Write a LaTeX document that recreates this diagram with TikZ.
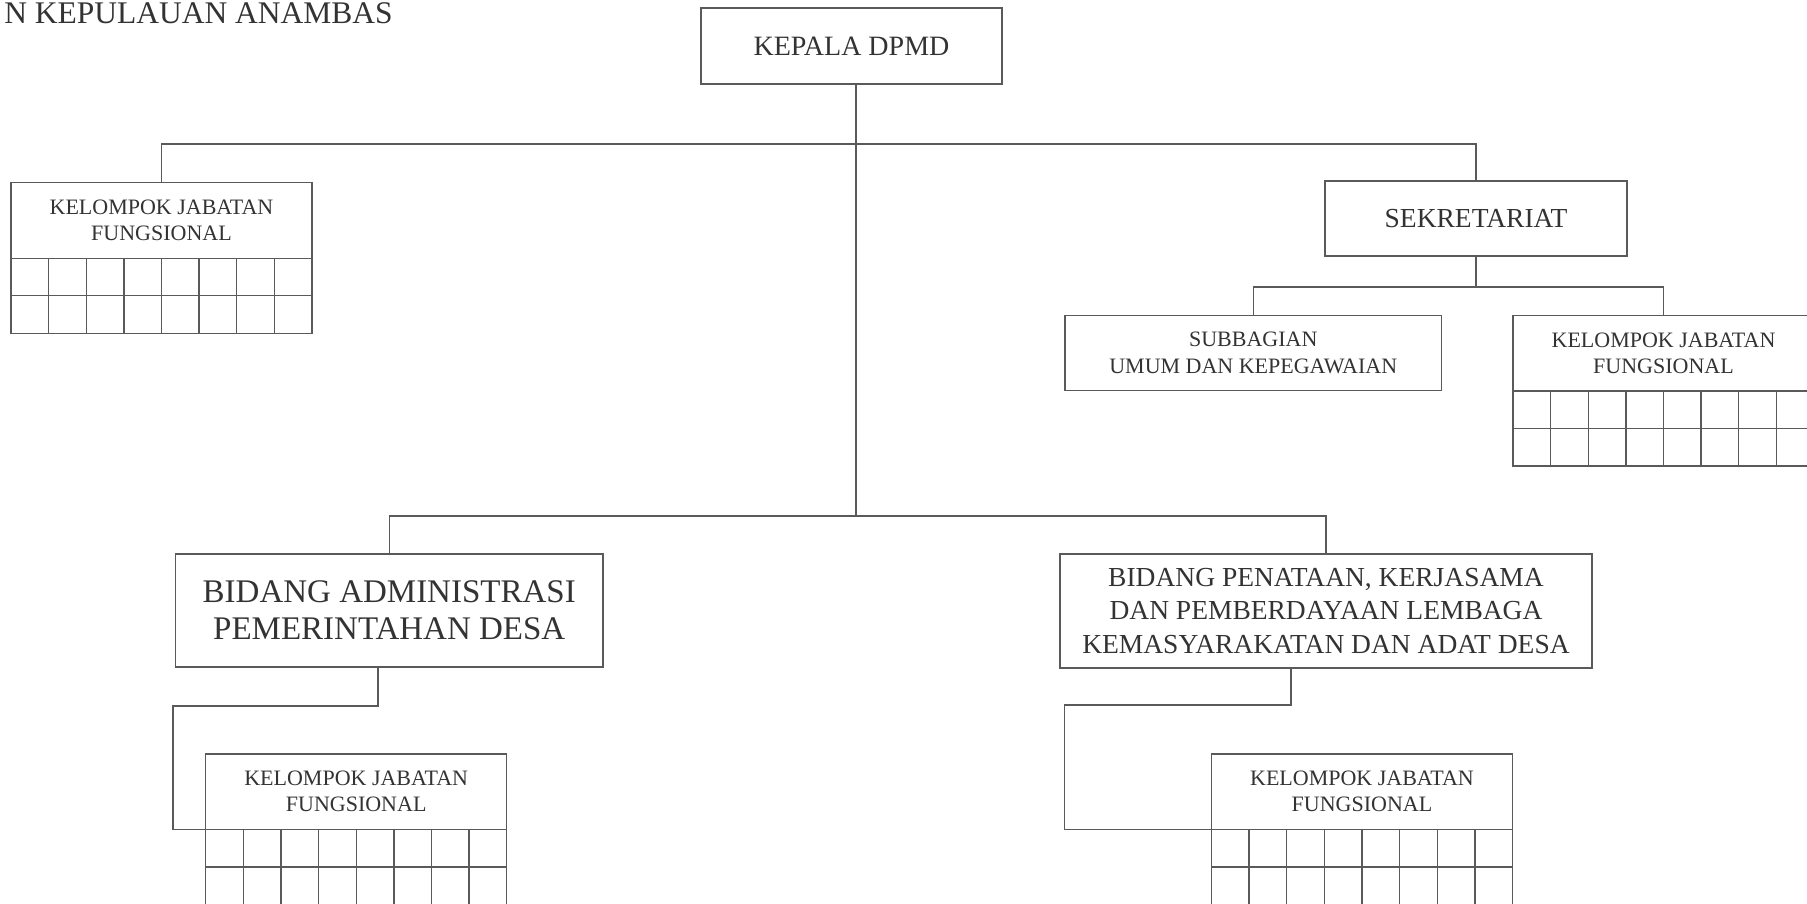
\documentclass[tikz,border=0pt]{standalone}
\usepackage{fontspec}
\setmainfont{Liberation Serif}
\usetikzlibrary{calc}
\definecolor{lngray}{HTML}{5A5A5A}
\definecolor{txtgray}{HTML}{333333}
\tikzset{
  ln/.style={draw=lngray, line width=1.4pt},
  orgbox/.style={draw=lngray, line width=1.4pt, rectangle, inner sep=0pt, outer sep=0pt, align=center, text=txtgray, anchor=north west},
  kjfhead/.style={orgbox, minimum width=301pt, minimum height=75.5pt, font=\fontsize{22}{26}\selectfont},
  kjfgrid/.style={orgbox, anchor=north, minimum width=301pt, minimum height=75pt},
}
\newcommand\kjfbox[3]{%
  \node[kjfhead] (#1) at (#2,#3) {KELOMPOK JABATAN\\FUNGSIONAL};
  \node[kjfgrid] (#1g) at (#1.south) {};
  \draw[ln] (#1g.west) -- (#1g.east);
  \foreach \i in {1,...,7}{\draw[ln] ($(#1g.north west)+(\i*37.625,0)$) -- ($(#1g.south west)+(\i*37.625,0)$);}
}
\begin{document}
\begin{tikzpicture}[x=1pt,y=-1pt]
\clip (0,0) rectangle (1807,903);
\fill[white] (0,0) rectangle (1807,903);

% title (cut at left edge)
\node[anchor=base east, inner sep=0pt, text=txtgray, font=\fontsize{31.5}{36}\selectfont] (title) at (393,23) {N KEPULAUAN ANAMBAS};

% main boxes
\node[orgbox, minimum width=301pt, minimum height=76pt, font=\fontsize{28}{32}\selectfont] (kepala) at (701,8) {KEPALA DPMD};
\node[orgbox, minimum width=302pt, minimum height=75pt, font=\fontsize{27.5}{32}\selectfont] (sek) at (1325,181) {SEKRETARIAT};
\node[orgbox, minimum width=376.5pt, minimum height=75pt, font=\fontsize{22}{27}\selectfont] (sub) at (1065,315.6) {SUBBAGIAN\\UMUM DAN KEPEGAWAIAN};
\node[orgbox, minimum width=427.5pt, minimum height=113pt, font=\fontsize{33}{37.3}\selectfont] (adm) at (175.5,554) {BIDANG ADMINISTRASI\\PEMERINTAHAN DESA};
\node[orgbox, minimum width=532pt, minimum height=114pt, font=\fontsize{27.5}{33.5}\selectfont] (pen) at (1060,554) {BIDANG PENATAAN, KERJASAMA\\DAN PEMBERDAYAAN LEMBAGA\\KEMASYARAKATAN DAN ADAT DESA};

% functional groups
\kjfbox{kjfa}{11}{182.7}
\kjfbox{kjfb}{1513}{315.6}
\kjfbox{kjfc}{205.7}{754}
\kjfbox{kjfd}{1211.5}{754}

% connector coordinates
\coordinate (bus1) at (856,144);
\coordinate (trunk) at (856,516);
\coordinate (bus2) at (1476,287);
\coordinate (a1) at (378,706);
\coordinate (a2) at (173,706);
\coordinate (p1) at (1291,705);
\coordinate (p2) at (1064.7,705);

% connectors
\draw[ln] (kepala.south -| trunk) -- (trunk);
\draw[ln] (kjfa.north) |- (bus1) -| (sek.north);
\draw[ln] (sek.south) -- (bus2);
\draw[ln] (sub.north) |- (bus2) -| (kjfb.north);
\draw[ln] (adm.north) |- (trunk) -| (pen.north);
\draw[ln] (adm.south -| a1) -- (a1) -- (a2) -- (a2 |- kjfc.south west) -- (kjfc.south west);
\draw[ln] (pen.south -| p1) -- (p1) -- (p2) -- (p2 |- kjfd.south west) -- (kjfd.south west);
\end{tikzpicture}
\end{document}
